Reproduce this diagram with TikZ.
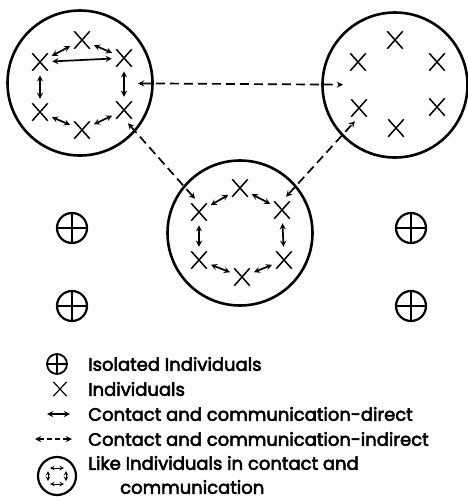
\documentclass[tikz,border=0pt]{standalone}
\usepackage{fontspec}
\setmainfont{Poppins}
\newfontfamily\legfont{Poppins}[FakeBold=3]
\usepackage{tikz}
\usetikzlibrary{calc, shapes.misc, positioning}

\tikzset{
    indiv/.style={cross out, draw, line width=1.5pt, minimum width=14pt, minimum height=16pt, inner sep=0pt},
    group/.style={circle, draw, line width=2.6pt, minimum size=145pt, inner sep=0pt},
    isolated/.style={circle, draw, line width=2.2pt, minimum size=30pt, inner sep=0pt,
        path picture={\draw[line width=2.2pt] (path picture bounding box.north) -- (path picture bounding box.south)
                      (path picture bounding box.west) -- (path picture bounding box.east);}},
    direct/.style={<->, line width=1.7pt, shorten <=4.5pt, shorten >=4.5pt},
    indirect/.style={<->, line width=1.7pt, dash pattern=on 9pt off 5pt, shorten <=6pt, shorten >=6pt},
    legtext/.style={anchor=west, inner sep=0pt, font=\legfont\fontsize{18}{21}\selectfont},
}

\begin{document}
\begin{tikzpicture}[>=stealth, x=1pt, y=-1pt]
    \useasboundingbox (0,0) rectangle (468,501);

    % ba nhóm
    \node[group] (lc) at (80,83) {};
    \node[group] (rc) at (395,85) {};
    \node[group] (bc) at (240,233) {};

    % nhóm trái
    \node[indiv] (l1) at (82,40) {};
    \node[indiv] (l2) at (40,62) {};
    \node[indiv] (l3) at (124,58) {};
    \node[indiv] (l4) at (40,112) {};
    \node[indiv] (l5) at (124,110) {};
    \node[indiv] (l6) at (82,130) {};
    \draw[direct] (l2) -- (l1);
    \draw[direct] (l1) -- (l3);
    \draw[direct] (l2) -- (l3);
    \draw[direct] (l2) -- (l4);
    \draw[direct] (l3) -- (l5);
    \draw[direct] (l4) -- (l6);
    \draw[direct] (l6) -- (l5);

    % nhóm phải
    \node[indiv] (r1) at (395,40) {};
    \node[indiv] (r2) at (358,62) {};
    \node[indiv] (r3) at (437,62) {};
    \node[indiv] (r4) at (359,108) {};
    \node[indiv] (r5) at (437,107) {};
    \node[indiv] (r6) at (396,128) {};

    % nhóm dưới
    \node[indiv] (b1) at (240,188) {};
    \node[indiv] (b2) at (199,212) {};
    \node[indiv] (b3) at (282,210) {};
    \node[indiv] (b4) at (199,260) {};
    \node[indiv] (b5) at (284,260) {};
    \node[indiv] (b6) at (242,277) {};
    \draw[direct] (b2) -- (b1);
    \draw[direct] (b1) -- (b3);
    \draw[direct] (b2) -- (b4);
    \draw[direct] (b3) -- (b5);
    \draw[direct] (b4) -- (b6);
    \draw[direct] (b6) -- (b5);

    % liên hệ gián tiếp
    \draw[indirect, shorten <=58pt, shorten >=52pt] (lc.center) -- (rc.center);
    \draw[indirect] (l5.south) -- (b2.north);
    \draw[indirect] (b3.north) -- (r4.south);

    % cá thể cô lập
    \node[isolated] (i1) at (72,228) {};
    \node[isolated] (i2) at (72,306) {};
    \node[isolated] (i3) at (411,228) {};
    \node[isolated] (i4) at (411,306) {};

    % chú thích
    \node[isolated, minimum size=20pt, line width=1.8pt] (k1) at (57,364) {};
    \node[legtext] (t1) at (88,364) {Isolated Individuals};
    \node[indiv, minimum width=12pt, minimum height=13pt, line width=1.2pt] (k2) at (60,389) {};
    \node[legtext] (t2) at (88,389) {Individuals};
    \coordinate (k3a) at (47,414);
    \coordinate (k3b) at (70,414);
    \draw[direct, shorten <=0pt, shorten >=0pt] (k3a) -- (k3b);
    \node[legtext] (t3) at (88,414) {Contact and communication-direct};
    \coordinate (k4a) at (35,439);
    \coordinate (k4b) at (72,439);
    \draw[indirect, dash pattern=on 5pt off 3pt, shorten <=0pt, shorten >=0pt] (k4a) -- (k4b);
    \node[legtext] (t4) at (88,439) {Contact and communication-indirect};
    \node[group, minimum size=38pt, line width=2.2pt] (k5) at (57,476) {};
    \draw[<->, line width=1pt] ($(k5)+(-7,-8)$) -- ($(k5)+(7,-8)$);
    \draw[<->, line width=1pt] ($(k5)+(-7,8)$) -- ($(k5)+(7,8)$);
    \draw[<->, line width=1pt] ($(k5)+(-9,-5)$) -- ($(k5)+(-9,5)$);
    \draw[<->, line width=1pt] ($(k5)+(9,-5)$) -- ($(k5)+(9,5)$);
    \node[legtext] (t5) at (88,463) {Like Individuals in contact and};
    \node[legtext] (t6) at (120,487) {communication};
\end{tikzpicture}
\end{document}
